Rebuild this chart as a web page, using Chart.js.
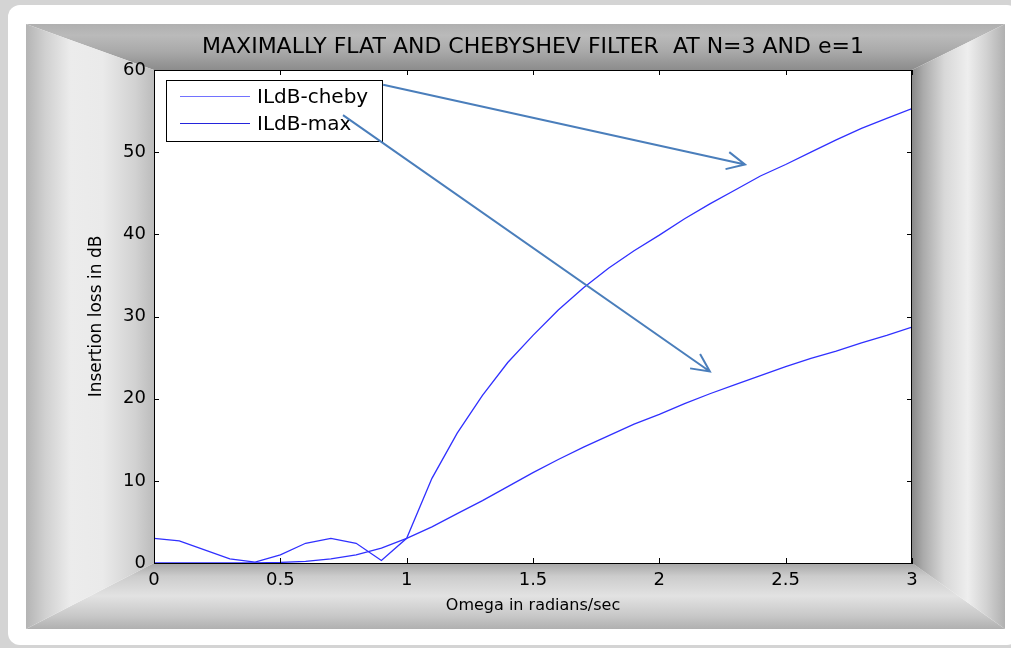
<!DOCTYPE html>
<html>
<head>
<meta charset="utf-8">
<script src="https://cdn.jsdelivr.net/npm/chart.js@4.4.1/dist/chart.umd.min.js"></script>
<style>
   html, body { margin: 0; padding: 0; background: #d4d4d4; }
   canvas { display: block; }
</style>
</head>
<body>
<canvas id="chart" width="1011" height="648"></canvas>
<script>
const omega = [0, 0.1, 0.2, 0.3, 0.4, 0.5, 0.6, 0.7, 0.8, 0.9, 1.0, 1.1, 1.2, 1.3, 1.4, 1.5,
   1.6, 1.7, 1.8, 1.9, 2.0, 2.1, 2.2, 2.3, 2.4, 2.5, 2.6, 2.7, 2.8, 2.9, 3.0]
const ilChebyDb = [3.0, 2.7, 1.6, 0.5, 0.1, 1.0, 2.4, 3.0, 2.4, 0.3, 3.0, 10.3, 15.8, 20.4, 24.4, 27.7,
   30.8, 33.5, 35.9, 38.0, 39.9, 41.9, 43.7, 45.4, 47.1, 48.5, 50.0, 51.5, 52.9, 54.1, 55.3]
const ilMaxDb = [0, 0, 0, 0, 0.02, 0.07, 0.2, 0.5, 1.0, 1.8, 3.0, 4.4, 6.0, 7.6, 9.3, 11.0,
   12.6, 14.1, 15.5, 16.9, 18.1, 19.4, 20.6, 21.7, 22.8, 23.9, 24.9, 25.8, 26.8, 27.7, 28.7]
const seriesNames = ['ILdB-cheby', 'ILdB-max']
const xTicks = [0, 0.5, 1, 1.5, 2, 2.5, 3]
const yTicks = [0, 10, 20, 30, 40, 50, 60]

// annotation arrows, in data units
const arrows = [
   { from: [0.907, 58.2], to: [2.339, 48.5] },
   { from: [0.748, 54.5], to: [2.2, 23.3] }
]

const lineColor = '#3030ff'
const legendColors = ['#7272ff', '#2424dc']
const arrowColor = '#4a7ebb'
const font = 'DejaVu Sans'

function toPoints(ys) {
   return omega.map((x, i) => ({ x: x, y: ys[i] }))
}

function fillBand(ctx, pts, g0, g1, stops) {
   const grad = ctx.createLinearGradient(g0[0], g0[1], g1[0], g1[1])
   for (const s of stops) grad.addColorStop(s[0], s[1])
   ctx.fillStyle = grad
   ctx.beginPath()
   ctx.moveTo(pts[0][0], pts[0][1])
   for (let i = 1; i < pts.length; ++i) ctx.lineTo(pts[i][0], pts[i][1])
   ctx.closePath()
   ctx.fill()
}

const framePlugin = {
   id: 'frame',
   beforeDraw(chart) {
      const ctx = chart.ctx
      const a = chart.chartArea
      const o = { l: 26, t: 24, r: 1005, b: 629 }
      ctx.save()
      ctx.fillStyle = '#d4d4d4'
      ctx.fillRect(0, 0, chart.width, chart.height)
      ctx.fillStyle = '#ffffff'
      ctx.beginPath()
      ctx.roundRect(8, 5, chart.width, 640, 12)
      ctx.fill()

      fillBand(ctx, [[o.l, o.t], [o.r, o.t], [a.right, a.top], [a.left, a.top]],
         [0, o.t], [0, a.top],
         [[0, '#b0b0b0'], [0.25, '#bababa'], [0.6, '#a9a9a9'], [1, '#8c8c8c']])
      fillBand(ctx, [[o.l, o.b], [o.r, o.b], [a.right, a.bottom], [a.left, a.bottom]],
         [0, o.b], [0, a.bottom],
         [[0, '#b0b0b0'], [0.2, '#c8c8c8'], [0.5, '#e2e2e2'], [0.8, '#cccccc'], [1, '#a6a6a6']])
      fillBand(ctx, [[o.l, o.t], [a.left, a.top], [a.left, a.bottom], [o.l, o.b]],
         [o.l, 0], [a.left, 0],
         [[0, '#b4b4b4'], [0.15, '#d0d0d0'], [0.35, '#ececec'], [0.6, '#eaeaea'], [0.85, '#d2d2d2'], [1, '#bcbcbc']])
      fillBand(ctx, [[o.r, o.t], [a.right, a.top], [a.right, a.bottom], [o.r, o.b]],
         [o.r, 0], [a.right, 0],
         [[0, '#b0b0b0'], [0.2, '#d2d2d2'], [0.4, '#eeeeee'], [0.65, '#d8d8d8'], [0.88, '#aaaaaa'], [1, '#888888']])

      ctx.fillStyle = '#ffffff'
      ctx.fillRect(a.left, a.top, a.right - a.left, a.bottom - a.top)
      ctx.restore()
   },
   afterDraw(chart) {
      const ctx = chart.ctx
      const a = chart.chartArea
      const xs = chart.scales.x
      const ys = chart.scales.y
      ctx.save()
      ctx.strokeStyle = '#000'
      ctx.lineWidth = 1
      ctx.beginPath()
      for (const t of xTicks) {
         const px = Math.round(xs.getPixelForValue(t)) + 0.5
         ctx.moveTo(px, a.bottom); ctx.lineTo(px, a.bottom - 5)
         ctx.moveTo(px, a.top); ctx.lineTo(px, a.top + 5)
      }
      for (const t of yTicks) {
         const py = Math.round(ys.getPixelForValue(t)) + 0.5
         ctx.moveTo(a.left, py); ctx.lineTo(a.left + 5, py)
         ctx.moveTo(a.right, py); ctx.lineTo(a.right - 5, py)
      }
      ctx.stroke()
      ctx.strokeRect(a.left + 0.5, a.top + 0.5, a.right - a.left - 1, a.bottom - a.top)

      // legend box
      const lx = a.left + 12, ly = a.top + 10
      ctx.fillStyle = '#fff'
      ctx.fillRect(lx, ly, 216, 61)
      ctx.strokeStyle = '#000'
      ctx.strokeRect(lx + 0.5, ly + 0.5, 216, 61)
      ctx.font = '20px "' + font + '"'
      ctx.textBaseline = 'middle'
      ctx.fillStyle = '#000'
      seriesNames.forEach((name, i) => {
         const yy = ly + 16 + i * 27
         ctx.strokeStyle = legendColors[i]
         ctx.beginPath()
         ctx.moveTo(lx + 14, yy + 0.5); ctx.lineTo(lx + 84, yy + 0.5)
         ctx.stroke()
         ctx.fillText(name, lx + 91, yy + 2)
      })

      // arrows
      ctx.strokeStyle = arrowColor
      ctx.lineWidth = 2
      for (const ar of arrows) {
         const x0 = xs.getPixelForValue(ar.from[0]), y0 = ys.getPixelForValue(ar.from[1])
         const x1 = xs.getPixelForValue(ar.to[0]), y1 = ys.getPixelForValue(ar.to[1])
         const ang = Math.atan2(y1 - y0, x1 - x0)
         ctx.beginPath()
         ctx.moveTo(x0, y0); ctx.lineTo(x1, y1)
         ctx.moveTo(x1 - 20 * Math.cos(ang - 0.45), y1 - 20 * Math.sin(ang - 0.45))
         ctx.lineTo(x1, y1)
         ctx.lineTo(x1 - 20 * Math.cos(ang + 0.45), y1 - 20 * Math.sin(ang + 0.45))
         ctx.stroke()
      }
      ctx.restore()
   }
}

new Chart(document.getElementById('chart'), {
   type: 'line',
   data: {
      datasets: [
         { label: seriesNames[0], data: toPoints(ilChebyDb), borderColor: lineColor, borderWidth: 1.3, pointRadius: 0, tension: 0 },
         { label: seriesNames[1], data: toPoints(ilMaxDb), borderColor: lineColor, borderWidth: 1.3, pointRadius: 0, tension: 0 }
      ]
   },
   options: {
      responsive: false,
      animation: false,
      devicePixelRatio: 1,
      layout: { padding: { left: 0, right: 99, top: 0, bottom: 0 } },
      plugins: {
         legend: { display: false },
         tooltip: { enabled: false },
         title: {
            display: true,
            fullSize: false,
            text: 'MAXIMALLY FLAT AND CHEBYSHEV FILTER  AT N=3 AND e=1',
            color: '#000',
            font: { family: font, size: 22, weight: 'normal' },
            padding: { top: 34, bottom: 9.6 }
         }
      },
      scales: {
         x: {
            type: 'linear',
            min: 0,
            max: 3,
            afterBuildTicks: s => { s.ticks = xTicks.map(v => ({ value: v })) },
            afterFit: s => { s.height = 85 },
            grid: { display: false, drawTicks: false },
            border: { display: true, color: '#000' },
            ticks: {
               color: '#000', padding: 7, maxRotation: 0,
               font: { family: font, size: 18 },
               callback: v => String(v)
            },
            title: {
               display: true,
               text: 'Omega in radians/sec',
               color: '#000',
               font: { family: font, size: 16 },
               padding: { top: 0, bottom: 33 }
            }
         },
         y: {
            min: 0,
            max: 60,
            afterBuildTicks: s => { s.ticks = yTicks.map(v => ({ value: v })) },
            afterFit: s => { s.width = 154 },
            grid: { display: false, drawTicks: false },
            border: { display: true, color: '#000' },
            ticks: { color: '#000', padding: 8, font: { family: font, size: 18 }, callback: v => String(v) },
            title: {
               display: true,
               text: 'Insertion loss in dB',
               color: '#000',
               font: { family: font, size: 17 },
               padding: { top: 86, bottom: 0 }
            }
         }
      }
   },
   plugins: [framePlugin]
})
</script>
</body>
</html>
